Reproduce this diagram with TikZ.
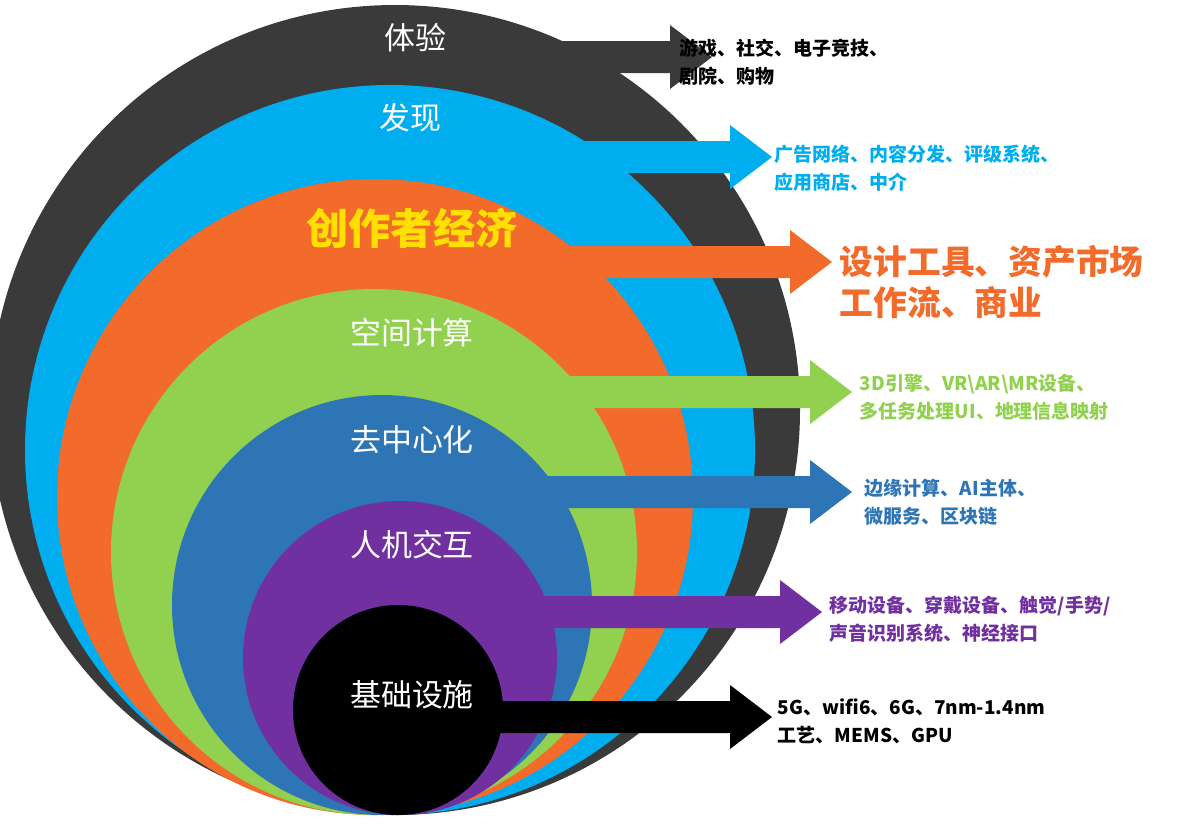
\documentclass[tikz,border=0pt]{standalone}
\usepackage{fontspec}
\setmainfont{Noto Sans CJK SC}
\definecolor{cdark}{HTML}{3A3A3A}
\definecolor{cblue}{HTML}{00AEEF}
\definecolor{corange}{HTML}{F26B2B}
\definecolor{cgreen}{HTML}{92D050}
\definecolor{cdblue}{HTML}{2E75B6}
\definecolor{cpurple}{HTML}{7030A0}
\definecolor{cyel}{HTML}{FFE000}
\newcommand{\myarrow}[4]{% color, x0, xtip, y
  \fill[#1] (#2,#4-16) -- (#3-42,#4-16) -- (#3-42,#4-32) -- (#3,#4) -- (#3-42,#4+32) -- (#3-42,#4+16) -- (#2,#4+16) -- cycle;}
\tikzset{inlab/.style={text=white,font=\fontsize{22}{26}\selectfont},
  rlab/.style={anchor=west,align=left,font=\bfseries\fontsize{13.5}{20}\selectfont}}
\begin{document}
\begin{tikzpicture}[x=0.025cm,y=-0.025cm]
\useasboundingbox (0,0) rectangle (1200,825);
\fill[cdark] (395,410) circle (405);
\myarrow{cdark}{450}{712}{57}
\fill[cblue] (390,450) circle (365);
\myarrow{cblue}{450}{772}{157}
\fill[corange] (375,497) circle (318);
\myarrow{corange}{450}{832}{262}
\fill[cgreen] (374,552) circle (263);
\myarrow{cgreen}{450}{852}{392}
\fill[cdblue] (382,605) circle (210);
\myarrow{cdblue}{450}{852}{492}
\fill[cpurple] (400,658) circle (157);
\myarrow{cpurple}{450}{822}{612}
\fill[black] (398,710) circle (105);
\myarrow{black}{495}{772}{717}
\node[inlab] (t1) at (415,38) {体验};
\node[inlab] (t2) at (410,118) {发现};
\node[text=cyel,font=\bfseries\fontsize{30}{34}\selectfont] (t3) at (412,228) {创作者经济};
\node[inlab] (t4) at (412,333) {空间计算};
\node[inlab] (t5) at (412,440) {去中心化};
\node[inlab] (t6) at (412,545) {人机交互};
\node[inlab] (t7) at (412,695) {基础设施};
\node[rlab,text=black] (r1) at (675,62) {游戏、社交、电子竞技、\\剧院、购物};
\node[rlab,text=cblue] (r2) at (770,168) {广告网络、内容分发、评级系统、\\应用商店、中介};
\node[rlab,text=corange,font=\bfseries\fontsize{24}{29}\selectfont] (r3) at (835,282) {设计工具、资产市场\\工作流、商业};
\node[rlab,text=cgreen] (r4) at (855,397) {3D引擎、VR\textbackslash AR\textbackslash MR设备、\\多任务处理UI、地理信息映射};
\node[rlab,text=cdblue] (r5) at (860,502) {边缘计算、AI主体、\\微服务、区块链};
\node[rlab,text=cpurple] (r6) at (825,619) {移动设备、穿戴设备、触觉/手势/\\声音识别系统、神经接口};
\node[rlab,text=black] (r7) at (773,721) {5G、wifi6、6G、7nm-1.4nm\\工艺、MEMS、GPU};
\end{tikzpicture}
\end{document}
